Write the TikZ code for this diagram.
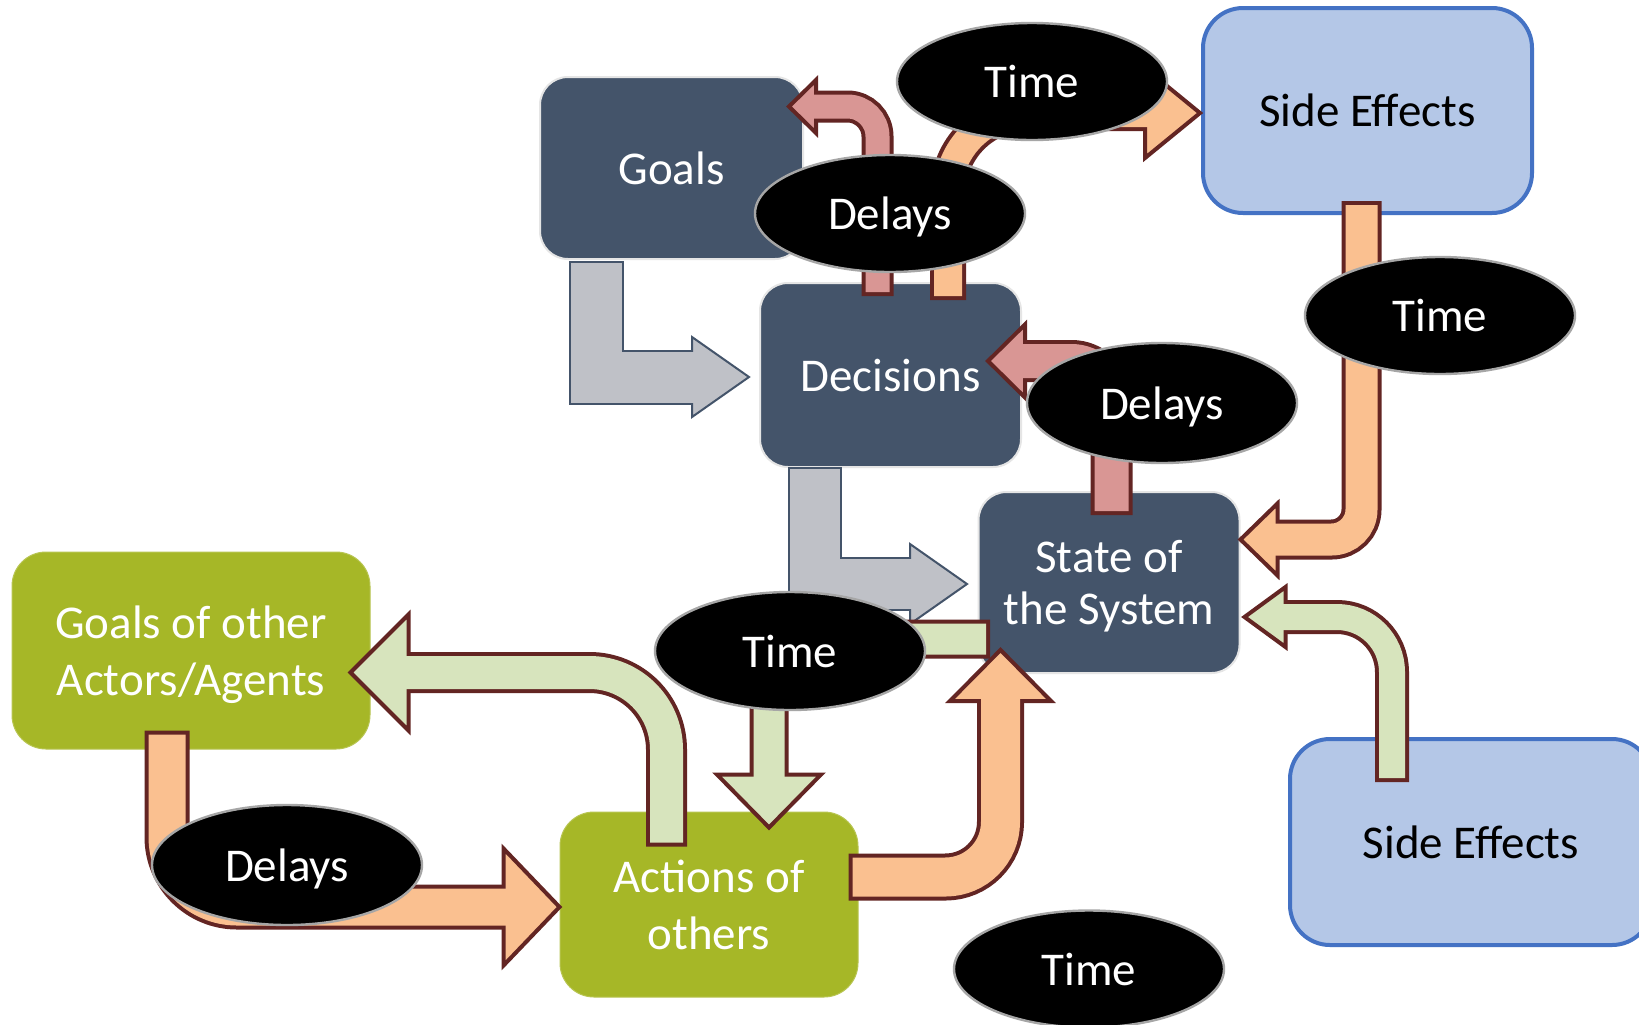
\documentclass[tikz,border=0pt]{standalone}
\usepackage{fontspec}
\setmainfont{Carlito}
\usetikzlibrary{calc,shapes.geometric}

\definecolor{slate}{HTML}{44546A}
\definecolor{olive}{HTML}{A6B727}
\definecolor{skyfill}{HTML}{B4C7E7}
\definecolor{skyedge}{HTML}{4472C4}
\definecolor{peach}{HTML}{FAC090}
\definecolor{rose}{HTML}{D99694}
\definecolor{mint}{HTML}{D7E4BD}
\definecolor{maroon}{HTML}{632523}
\definecolor{steel}{HTML}{BFC1C7}
\definecolor{rim}{HTML}{A6A6A6}

\tikzset{
  lbl/.style={font=\fontsize{23.5pt}{28.5pt}\selectfont, text depth=0pt},
  darkbox/.style={rectangle, rounded corners=14pt, fill=slate, draw=black!10,
    line width=1pt, text=white, align=center, inner sep=0pt, lbl},
  greenbox/.style={rectangle, rounded corners=17pt, fill=olive, draw=olive!80!white,
    line width=0.5pt, text=white, align=center, inner sep=0pt, lbl},
  bluebox/.style={rectangle, rounded corners=20pt, fill=skyfill, draw=skyedge,
    line width=2pt, text=black, align=center, inner sep=0pt, lbl},
  bubble/.style={ellipse, fill=black, draw=rim, line width=1.2pt, text=white,
    inner sep=0pt, minimum width=135pt, minimum height=58.5pt, lbl},
}

% Block arrow: #1 fill, #2 edge colour, #3 edge thickness, #4 width of the
% filled band, #5 centre line from tail to head base, #6 outline of the head
\newcommand{\blockarrow}[6]{%
  \draw[draw=#2, line width=#4+2*#3, shorten <=-#3, line join=miter] #5;
  \filldraw[fill=#1, draw=#2, line width=#3, line join=miter] #6 -- cycle;
  \draw[draw=#1, line width=#4, shorten >=-2*#3, line join=miter] #5;
}

\begin{document}
\begin{tikzpicture}[x=0.5pt, y=-0.5pt]
\useasboundingbox (0,0) rectangle (1639,1024);
\fill[white] (0,0) rectangle (1639,1024);
\clip (0,0) rectangle (1639,1024);

% ---- boxes ----
\node[darkbox, minimum width=131.5pt, minimum height=91pt] (goals) at (671.5,168) {Goals};
\node[darkbox, minimum width=130.5pt, minimum height=92pt] (dec) at (890.5,375) {Decisions};
\node[darkbox, minimum width=130.5pt, minimum height=90.5pt,
      font=\fontsize{23.5pt}{26pt}\selectfont] (state) at (1109,582.5) {State of\\the System};
\node[bluebox, minimum width=164.5pt, minimum height=102.5pt] (se1) at (1367.5,110.5) {Side Effects};
\node[bluebox, minimum width=181pt, minimum height=103pt] (se2) at (1471,842) {Side Effects};
\node[greenbox, minimum width=179pt, minimum height=98.5pt] (others) at (191,650.5) {Goals of other\\Actors/Agents};
\node[greenbox, minimum width=149pt, minimum height=92.5pt] (act) at (709,904.5) {Actions of\\others};

% ---- arrow end points ----
\coordinate (a1t) at ($(goals.south)+(-75,3)$);
\coordinate (a1h) at ($(dec.west)+(-10,2)$);
\coordinate (a2t) at ($(dec.south)+(-75.5,1)$);
\coordinate (a2h) at ($(state.west)+(-10.5,1.5)$);
\coordinate (p1t) at ($(dec.north)+(-13,10)$);
\coordinate (p1h) at ($(goals.east)+(-15,-61.5)$);
\coordinate (o1t) at ($(dec.north)+(57.5,14)$);
\coordinate (o1h) at ($(se1.west)+(-1,2.5)$);
\coordinate (p2t) at ($(state.north)+(2.5,20)$);
\coordinate (p2h) at ($(dec.east)+(-34,-14)$);
\coordinate (o2t) at ($(se1.south)+(-6,-10)$);
\coordinate (o2h) at ($(state.east)+(0,-43)$);
\coordinate (g1t) at ($(se2.north)+(-79,41)$);
\coordinate (g1h) at ($(state.east)+(4,34.5)$);
\coordinate (o3t) at ($(act.east)+(-6,-27.5)$);
\coordinate (o3h) at ($(state.south)+(-108.5,-24)$);
\coordinate (g2t) at ($(state.west)+(8.5,56.5)$);
\coordinate (g2h) at ($(act.north)+(60,16)$);
\coordinate (g3t) at ($(act.north)+(-42.5,31)$);
\coordinate (g3h) at ($(others.east)+(-20,22)$);
\coordinate (o4t) at ($(others.south)+(-24,-15)$);
\coordinate (o4h) at ($(act.west)+(0,2.5)$);

% ---- grey arrows ----
\blockarrow{steel}{slate}{1pt}{25.5pt}
  {(a1t) -- (a1t |- a1h) -- ($(a1h)+(-57,0)$)}
  {($(a1h)+(-57,-40)$) -- (a1h) -- ($(a1h)+(-57,40)$)}
\blockarrow{steel}{slate}{1pt}{25pt}
  {(a2t) -- (a2t |- a2h) -- ($(a2h)+(-57,0)$)}
  {($(a2h)+(-57,-40)$) -- (a2h) -- ($(a2h)+(-57,40)$)}

% ---- coloured arrows ----
\blockarrow{rose}{maroon}{2pt}{12pt}
  {(p1t) [rounded corners=15pt] -- (p1t |- p1h) -- ($(p1h)+(27,0)$)}
  {($(p1h)+(27,-26.5)$) -- (p1h) -- ($(p1h)+(27,26.5)$)}
\blockarrow{peach}{maroon}{2pt}{14pt}
  {(o1t) [rounded corners=40pt] -- (o1t |- o1h) -- ($(o1h)+(-55,0)$)}
  {($(o1h)+(-55,-45)$) -- (o1h) -- ($(o1h)+(-55,45)$)}
\blockarrow{rose}{maroon}{2pt}{17pt}
  {(p2t) [rounded corners=20pt] -- (p2t |- p2h) -- ($(p2h)+(37,0)$)}
  {($(p2h)+(37,-36.5)$) -- (p2h) -- ($(p2h)+(37,36.5)$)}
\blockarrow{peach}{maroon}{2pt}{16pt}
  {(o2t) [rounded corners=15pt] -- (o2t |- o2h) -- ($(o2h)+(37,0)$)}
  {($(o2h)+(37,-36)$) -- (o2h) -- ($(o2h)+(37,36)$)}
\blockarrow{mint}{maroon}{2pt}{13pt}
  {(g1t) [rounded corners=27.5pt] -- (g1t |- g1h) -- ($(g1h)+(41,0)$)}
  {($(g1h)+(41,-30)$) -- (g1h) -- ($(g1h)+(41,30)$)}
\blockarrow{mint}{maroon}{2pt}{15.5pt}
  {(g2t) [rounded corners=15pt] -- (g2t -| g2h) -- ($(g2h)+(0,-53)$)}
  {($(g2h)+(-52,-53)$) -- (g2h) -- ($(g2h)+(52,-53)$)}
\blockarrow{peach}{maroon}{2pt}{19.5pt}
  {(o3t) [rounded corners=27.5pt] -- (o3t -| o3h) -- ($(o3h)+(0,51)$)}
  {($(o3h)+(-50.5,51)$) -- (o3h) -- ($(o3h)+(50.5,51)$)}
\blockarrow{mint}{maroon}{2pt}{16.5pt}
  {(g3t) [rounded corners=38.5pt] -- (g3t |- g3h) -- ($(g3h)+(58,0)$)}
  {($(g3h)+(58,-58)$) -- (g3h) -- ($(g3h)+(58,58)$)}
\blockarrow{peach}{maroon}{2pt}{18.5pt}
  {(o4t) [rounded corners=35pt] -- (o4t |- o4h) -- ($(o4h)+(-56,0)$)}
  {($(o4h)+(-56,-58.5)$) -- (o4h) -- ($(o4h)+(-56,58.5)$)}

% ---- time and delay bubbles ----
\node[bubble] (time1) at (1032,81.5) {Time};
\node[bubble] (delay1) at (890,213.5) {Delays};
\node[bubble] (time2) at (1440,315.5) {Time};
\node[bubble, minimum height=60pt] (delay2) at (1162,403) {Delays};
\node[bubble, minimum height=59pt] (time3) at (790,651) {Time};
\node[bubble, minimum height=60pt] (delay3) at (287,865) {Delays};
\node[bubble] (time4) at (1089,969) {Time};
\end{tikzpicture}
\end{document}
